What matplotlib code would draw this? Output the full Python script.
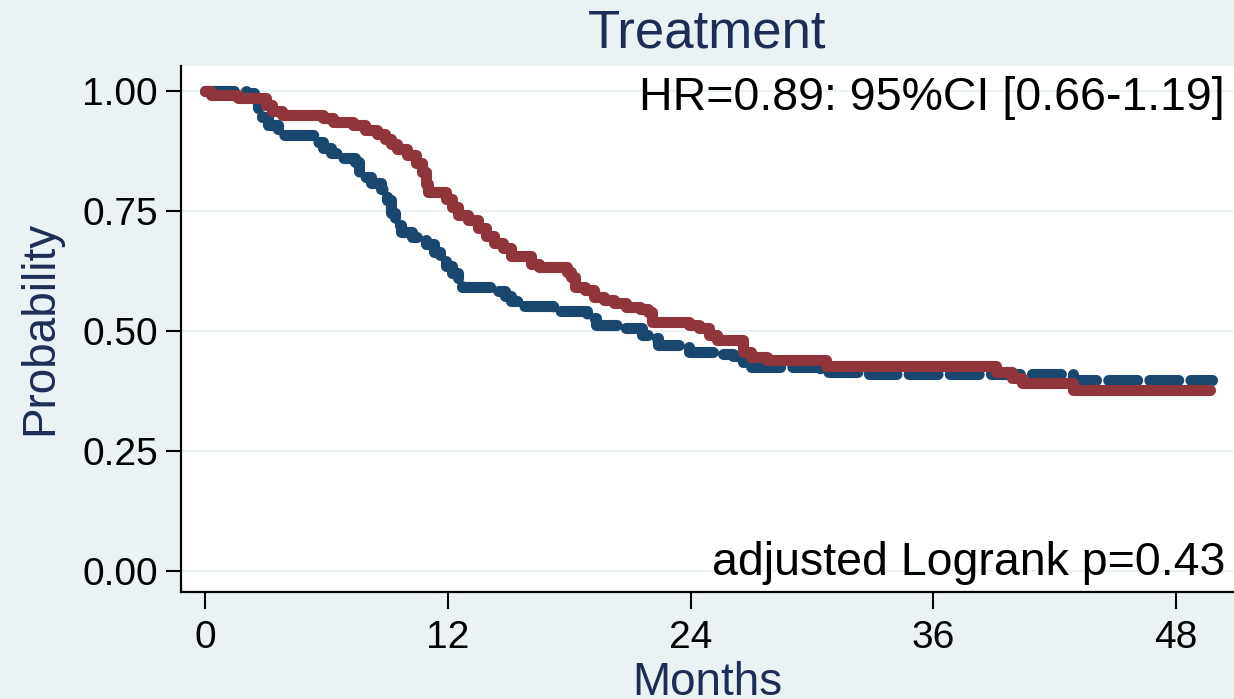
import numpy as np
import matplotlib.pyplot as plt

plt.rcParams['font.family'] = ['Liberation Sans', 'DejaVu Sans']

# Kaplan-Meier estimates (month of drop, survival after drop)
navy_months = [0.0, 2.0, 2.4, 2.6, 2.8, 3.1, 3.6, 5.4, 5.8, 6.2, 6.8, 7.4, 7.6, 8.2, 8.7,
               9.0, 9.2, 9.4, 9.7, 10.2, 10.9, 11.3, 11.6, 11.9, 12.2, 12.5, 12.7, 14.4,
               14.8, 15.1, 15.6, 17.2, 18.9, 19.3, 20.5, 21.6, 22.0, 22.4, 23.5, 23.9,
               25.5, 26.1, 26.6, 26.9, 30.4, 32.8, 42.9]
navy_surv = [1.0, 0.995, 0.985, 0.965, 0.945, 0.929, 0.907, 0.893, 0.880, 0.870, 0.860,
             0.852, 0.820, 0.808, 0.795, 0.772, 0.745, 0.720, 0.705, 0.695, 0.680, 0.665,
             0.650, 0.635, 0.620, 0.600, 0.592, 0.583, 0.572, 0.562, 0.552, 0.542, 0.526,
             0.512, 0.505, 0.491, 0.485, 0.470, 0.466, 0.456, 0.452, 0.448, 0.435, 0.424,
             0.415, 0.410, 0.397]
navy_end = 49.8

maroon_months = [0.0, 0.3, 1.6, 3.0, 3.3, 3.8, 5.8, 6.3, 7.3, 7.9, 8.5, 8.9, 9.2, 9.5,
                 10.0, 10.4, 10.7, 10.9, 11.0, 11.9, 12.2, 12.5, 13.0, 13.5, 13.9, 14.3,
                 14.7, 15.1, 16.1, 16.5, 17.9, 18.1, 18.3, 18.8, 19.2, 19.7, 20.2, 20.8,
                 21.5, 21.9, 22.1, 23.9, 24.4, 24.9, 25.3, 26.6, 27.0, 27.8, 30.7, 39.1,
                 39.9, 40.4, 42.9]
maroon_surv = [1.0, 0.992, 0.985, 0.970, 0.957, 0.950, 0.943, 0.935, 0.928, 0.918, 0.910,
               0.900, 0.890, 0.878, 0.866, 0.850, 0.830, 0.805, 0.790, 0.775, 0.758, 0.742,
               0.731, 0.715, 0.697, 0.683, 0.672, 0.656, 0.640, 0.632, 0.622, 0.612, 0.592,
               0.584, 0.571, 0.564, 0.557, 0.550, 0.545, 0.538, 0.519, 0.512, 0.505, 0.491,
               0.480, 0.456, 0.446, 0.439, 0.427, 0.415, 0.401, 0.391, 0.376]
maroon_end = 49.7

x_ticks = [0, 12, 24, 36, 48]
y_ticks = [0.0, 0.25, 0.5, 0.75, 1.0]

bg = '#EAF2F3'
navy = '#1A476F'
maroon = '#90353B'
title_col = '#1E2D55'

W, H = 1234, 699
fig = plt.figure(figsize=(W / 100, H / 100), dpi=100, facecolor=bg)
ax = fig.add_axes([181 / W, 1 - 592 / H, 1 - 181 / W, (592 - 66) / H])
ax.set_facecolor('white')

for y in y_ticks:
    ax.axhline(y, color=bg, lw=1.6, zorder=0)

t = np.append(navy_months, navy_end)
s = np.append(navy_surv, navy_surv[-1])
ax.step(t, s, where='post', color=navy, lw=8, linestyle=(0, (2.6, 1.1)),
        dash_capstyle='round', solid_joinstyle='round', zorder=2)

t = np.append(maroon_months, maroon_end)
s = np.append(maroon_surv, maroon_surv[-1])
ax.step(t, s, where='post', color=maroon, lw=8, solid_capstyle='round',
        solid_joinstyle='round', zorder=3)

ax.set_xlim(-1.2, 50.87)
ax.set_ylim(-0.0444, 1.0515)
ax.set_xticks(x_ticks)
ax.set_yticks(y_ticks)
ax.set_yticklabels([f'{v:.2f}' for v in y_ticks])

for side in ['top', 'right']:
    ax.spines[side].set_visible(False)
for side in ['left', 'bottom']:
    ax.spines[side].set_linewidth(1.6)
    ax.spines[side].set_color('black')

ax.tick_params(axis='y', length=10.5, width=1.5, pad=6, labelsize=28, colors='black')
ax.tick_params(axis='x', length=12, width=1.5, pad=8, labelsize=28, colors='black')

ax.text(0.9915, 0.9163, 'HR=0.89: 95%CI [0.66-1.19]', transform=ax.transAxes,
        ha='right', va='baseline', fontsize=33.5)
ax.text(0.9915, 0.0323, 'adjusted Logrank p=0.43', transform=ax.transAxes,
        ha='right', va='baseline', fontsize=33.5)

fig.text(707.5 / W, 1 - 48 / H, 'Treatment', ha='center', va='baseline',
         fontsize=38, color=title_col)
fig.text(707.5 / W, 1 - 695 / H, 'Months', ha='center', va='baseline',
         fontsize=33, color=title_col)
fig.text(40 / W, 1 - 327.5 / H, 'Probability', ha='center', va='center',
         rotation=90, fontsize=33, color=title_col)

fig.savefig('out.png', dpi=100, facecolor=fig.get_facecolor())
